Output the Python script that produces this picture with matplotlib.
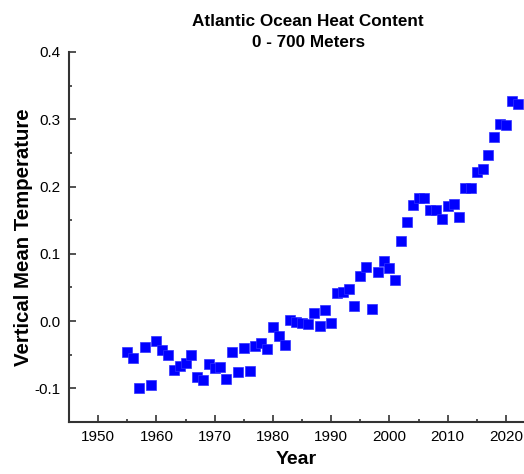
import matplotlib
matplotlib.use('Agg')
import matplotlib.pyplot as plt
from matplotlib.ticker import MultipleLocator

plt.rcParams['font.family'] = ['Liberation Sans', 'DejaVu Sans']
plt.rcParams['axes.unicode_minus'] = False

# dados
anos = list(range(1955, 2023))
temperatura = [-0.046, -0.055, -0.099, -0.039, -0.095, -0.030, -0.043, -0.050, -0.073, -0.067,
               -0.062, -0.050, -0.083, -0.088, -0.064, -0.070, -0.068, -0.086, -0.046, -0.076,
               -0.040, -0.074, -0.037, -0.033, -0.042, -0.009, -0.022, -0.036, 0.001, -0.002,
               -0.003, -0.005, 0.012, -0.007, 0.016, -0.003, 0.042, 0.043, 0.048, 0.022,
               0.067, 0.080, 0.018, 0.073, 0.089, 0.079, 0.061, 0.119, 0.147, 0.172,
               0.183, 0.183, 0.165, 0.165, 0.152, 0.171, 0.174, 0.155, 0.198, 0.198,
               0.221, 0.226, 0.247, 0.273, 0.293, 0.291, 0.327, 0.322]

fig = plt.figure(figsize=(5.24, 4.74), dpi=100)
ax = fig.add_axes([0.1317, 0.1097, 0.8683, 0.7806])

ax.plot(anos, temperatura, 's', color='#0000ff', markersize=7.6,
        markeredgecolor='#3030ff', markeredgewidth=0.5)

ax.set_xlim(1945, 2023.1)
ax.set_ylim(-0.15, 0.4)
ax.xaxis.set_major_locator(MultipleLocator(10))
ax.xaxis.set_minor_locator(MultipleLocator(5))
ax.yaxis.set_major_locator(MultipleLocator(0.1))
ax.yaxis.set_minor_locator(MultipleLocator(0.05))
ax.tick_params(which='major', direction='in', length=5, width=1.2, color='#333333',
               labelsize=11, pad=6)
ax.tick_params(which='minor', direction='in', length=2.5, width=1.2, color='#333333')

for lado in ['top', 'right']:
    ax.spines[lado].set_visible(False)
for lado in ['left', 'bottom']:
    ax.spines[lado].set_linewidth(1.5)
    ax.spines[lado].set_color('#333333')

ax.set_xlabel('Year', fontsize=14, fontweight='bold', labelpad=5)
ax.set_ylabel('Vertical Mean Temperature', fontsize=14.7, fontweight='bold', labelpad=1)

fig.text(0.588, 0.97, 'Atlantic Ocean Heat Content\n0 - 700 Meters', ha='center', va='top',
         fontsize=12.3, fontweight='bold', linespacing=1.5)

fig.savefig('out.png', dpi=100)
